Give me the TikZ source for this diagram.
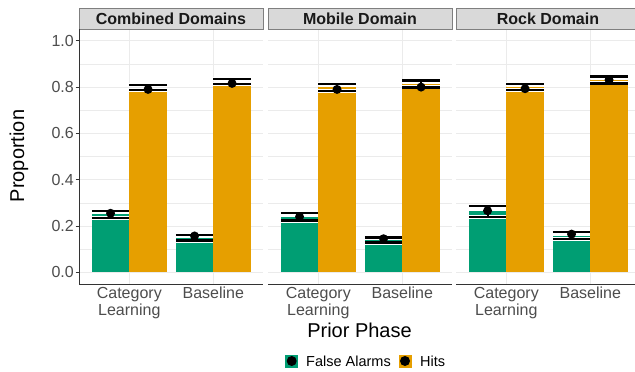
\documentclass[tikz,border=0pt]{standalone}
\usepackage{fontspec}
\setmainfont{Liberation Sans}
\definecolor{fa}{HTML}{009E73}
\definecolor{hit}{HTML}{E69F00}
\definecolor{gridc}{HTML}{EBEBEB}
\definecolor{axisc}{HTML}{333333}
\definecolor{tickc}{HTML}{4D4D4D}
\definecolor{stripfill}{HTML}{D9D9D9}
\definecolor{stripline}{HTML}{7F7F7F}
\tikzset{
  majgrid/.style={gridc, line width=1},
  mingrid/.style={gridc, line width=0.5},
  axisline/.style={axisc, line width=0.9},
  striptext/.style={font=\fontsize{16}{19}\selectfont\bfseries, text=black!90, inner sep=0},
  ticklab/.style={font=\fontsize{16}{17.5}\selectfont, text=tickc, inner sep=0, align=center},
  axtitle/.style={font=\fontsize{20}{24}\selectfont, inner sep=0},
  legtext/.style={font=\fontsize{14.5}{17}\selectfont, inner sep=0, anchor=west},
  capwhite/.style={white, line width=4},
  capblack/.style={black, line width=2.4},
}
\begin{document}
\begin{tikzpicture}[x=1pt,y=-1pt, declare function={Y(\v)=272.3-231.5*\v;}]
\useasboundingbox (0,0) rectangle (635,372);
\clip (0,0) rectangle (635,372);
\fill[white] (0,0) rectangle (635,372);
% panels
\foreach \i/\px/\title in {1/79/Combined Domains, 2/268/Mobile Domain, 3/456/Rock Domain}{
  \foreach \v in {0.1,0.3,0.5,0.7,0.9}{
    \draw[mingrid] (\px,{Y(\v)}) -- (\px+184,{Y(\v)});
  }
  \foreach \v in {0,0.2,0.4,0.6,0.8,1.0}{
    \draw[majgrid] (\px,{Y(\v)}) -- (\px+184,{Y(\v)});
  }
  \draw[majgrid] (\px+50.3,29) -- (\px+50.3,284);
  \draw[majgrid] (\px+134.3,29) -- (\px+134.3,284);
  \draw[stripline, fill=stripfill, line width=0.8] (\px,8) rectangle (\px+184,29);
  \node[striptext] (strip\i) at (\px+92,18.5) {\title};
  \draw[axisline] (\px,284) -- (\px+184,284);
  \node[ticklab, anchor=north] (cl\i) at (\px+50.3,287) {Category\\Learning};
  \node[ticklab, anchor=north] (bl\i) at (\px+134.3,287) {Baseline};
}
% bars: x center of bar / colour / low / high / dot
\foreach \xc/\col/\L/\H/\D in {
  110.55/fa/0.235/0.266/0.255, 148.05/hit/0.787/0.809/0.790,
  194.55/fa/0.137/0.160/0.157, 232.05/hit/0.813/0.834/0.816,
  299.55/fa/0.223/0.257/0.240, 337.05/hit/0.784/0.813/0.790,
  383.55/fa/0.128/0.151/0.145, 421.05/hit/0.799/0.828/0.800,
  487.55/fa/0.240/0.286/0.266, 525.05/hit/0.787/0.813/0.793,
  571.55/fa/0.143/0.174/0.165, 609.05/hit/0.816/0.845/0.831}{
  \fill[\col] (\xc-18.75,{Y(0)}) rectangle (\xc+18.75,{Y((\L+\H)/2)});
  \draw[capwhite] (\xc-18.75,{Y(\H)}) -- (\xc+18.75,{Y(\H)});
  \draw[capwhite] (\xc-18.75,{Y(\L)}) -- (\xc+18.75,{Y(\L)});
  \draw[black, line width=2] (\xc,{Y(\L)}) -- (\xc,{Y(\H)});
  \draw[capblack] (\xc-18.75,{Y(\H)}) -- (\xc+18.75,{Y(\H)});
  \draw[capblack] (\xc-18.75,{Y(\L)}) -- (\xc+18.75,{Y(\L)});
  \fill[black] (\xc,{Y(\D)}) circle (4.5);
}
% y axis
\draw[axisline] (79,29) -- (79,284);
\foreach \v/\lab in {0/0.0,0.2/0.2,0.4/0.4,0.6/0.6,0.8/0.8,1.0/1.0}{
  \draw[axisline] (75.5,{Y(\v)}) -- (79,{Y(\v)});
  \node[ticklab, anchor=east] (y\lab) at (74,{Y(\v)}) {\lab};
}
% titles
\node[axtitle, rotate=90] (ytitle) at (19,156) {Proportion};
\node[axtitle] (xtitle) at (359.5,330.5) {Prior Phase};
% legend
\fill[fa] (285.2,354.5) rectangle (298.2,367.5);
\fill[black] (291.7,361) circle (5);
\node[legtext] (legfa) at (306,361) {False Alarms};
\fill[hit] (398.5,354.5) rectangle (411.5,367.5);
\fill[black] (405,361) circle (5);
\node[legtext] (leghit) at (420,361) {Hits};
\end{tikzpicture}
\end{document}
